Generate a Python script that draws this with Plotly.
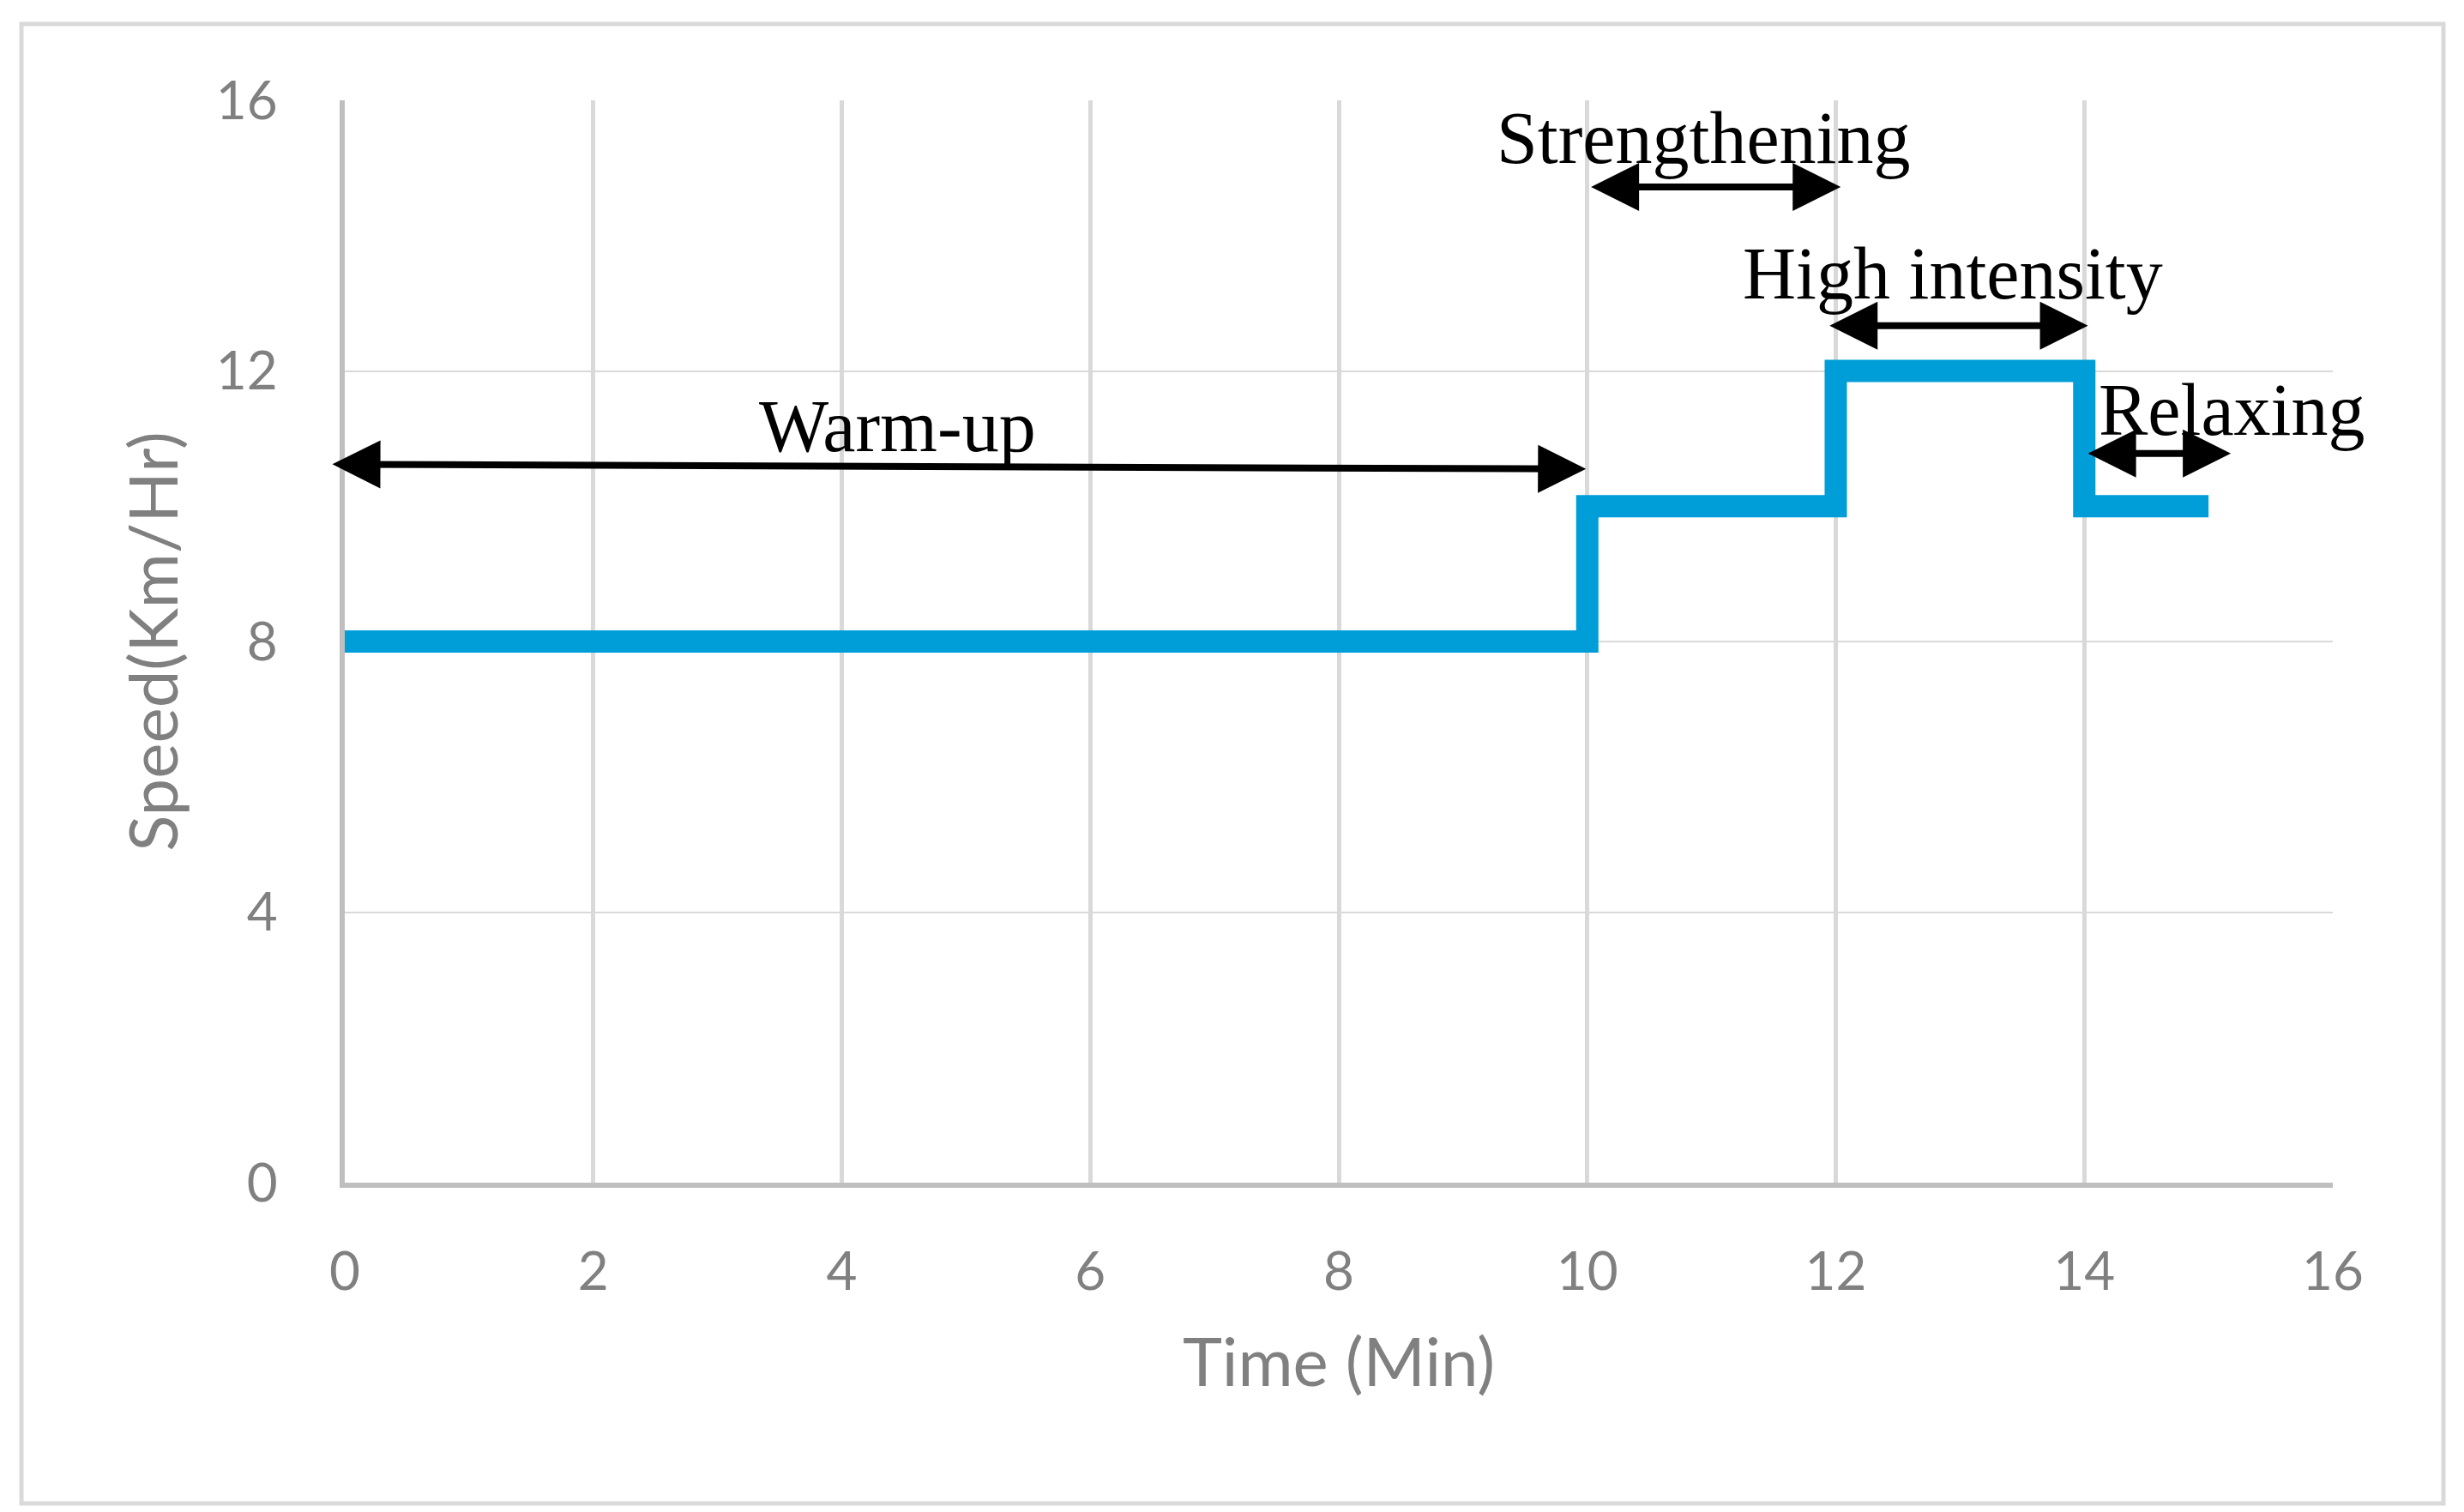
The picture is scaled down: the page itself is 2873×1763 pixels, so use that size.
import plotly.graph_objects as go

# ---- data ----
time_min = [0, 10, 12, 14, 15]          # step start times (min)
speed_kmh = [8, 10, 12, 10, 10]         # speed from each step

x_ticks = [0, 2, 4, 6, 8, 10, 12, 14, 16]
y_ticks = [0, 4, 8, 12, 16]

phase_labels = ["Warm-up", "Strengthening", "High intensity", "Relaxing"]
label_x = [4.45, 10.94, 12.94, 15.19]
label_y = [11.18, 15.44, 13.44, 11.42]
arrow_x0 = [-0.10, 10.03, 11.95, 14.03]
arrow_y0 = [10.62, 14.72, 12.67, 10.78]
arrow_x1 = [10.0, 12.05, 14.04, 15.19]
arrow_y1 = [10.55, 14.72, 12.67, 10.78]

W, H = 2873, 1763
ML, MR, MT, MB = 394, 161, 109, 392

fig = go.Figure()
fig.add_trace(go.Scatter(
    x=time_min, y=speed_kmh, mode="lines",
    line=dict(color="#009ED8", width=26, shape="hv"),
    showlegend=False, hoverinfo="skip",
))

for lab, lx, ly in zip(phase_labels, label_x, label_y):
    fig.add_annotation(x=lx, y=ly, xref="x", yref="y", text=lab, showarrow=False,
                       xanchor="center", yanchor="middle",
                       font=dict(family="Liberation Serif", size=86, color="black"))

for x0, y0, x1, y1 in zip(arrow_x0, arrow_y0, arrow_x1, arrow_y1):
    fig.add_annotation(x=x0, y=y0, ax=x1, ay=y1, xref="x", yref="y", axref="x", ayref="y",
                       text="", showarrow=True, arrowhead=2, startarrowhead=2,
                       arrowside="end+start", arrowsize=1.4, startarrowsize=1.4,
                       arrowwidth=8, arrowcolor="black", standoff=0, startstandoff=0)

# outer chart frame
pw = W - ML - MR
ph = H - MT - MB
fig.add_shape(type="rect", xref="paper", yref="paper",
              x0=(17 - ML) / pw, x1=(2841 - ML) / pw,
              y0=(H - MB - 1745) / ph, y1=(H - MB - 20) / ph,
              line=dict(color="#D9D9D9", width=5), fillcolor="rgba(0,0,0,0)", layer="below")

tick_font = dict(family="Lato", size=62, color="#808080")
title_font = dict(family="Lato", size=78, color="#808080")

fig.update_xaxes(range=[0, 16], tickvals=x_ticks, ticktext=[str(v) for v in x_ticks],
                 showgrid=True, gridcolor="#D9D9D9", gridwidth=5,
                 showline=True, linecolor="#BFBFBF", linewidth=6, zeroline=False,
                 ticks="", tickfont=tick_font, ticklabelstandoff=45,
                 title=dict(text="Time (Min)", font=title_font, standoff=47))
fig.update_yaxes(range=[0, 16], tickvals=y_ticks, ticktext=[str(v) for v in y_ticks],
                 showgrid=True, gridcolor="#D9D9D9", gridwidth=2,
                 showline=True, linecolor="#BFBFBF", linewidth=6, zeroline=False,
                 ticks="", tickfont=tick_font, ticklabelstandoff=60,
                 title=dict(text="Speed(Km/Hr)", font=title_font, standoff=20))

fig.update_layout(width=W, height=H, margin=dict(l=ML, r=MR, t=MT, b=MB, autoexpand=False),
                  paper_bgcolor="white", plot_bgcolor="white", showlegend=False)

fig.write_html("out.html")
